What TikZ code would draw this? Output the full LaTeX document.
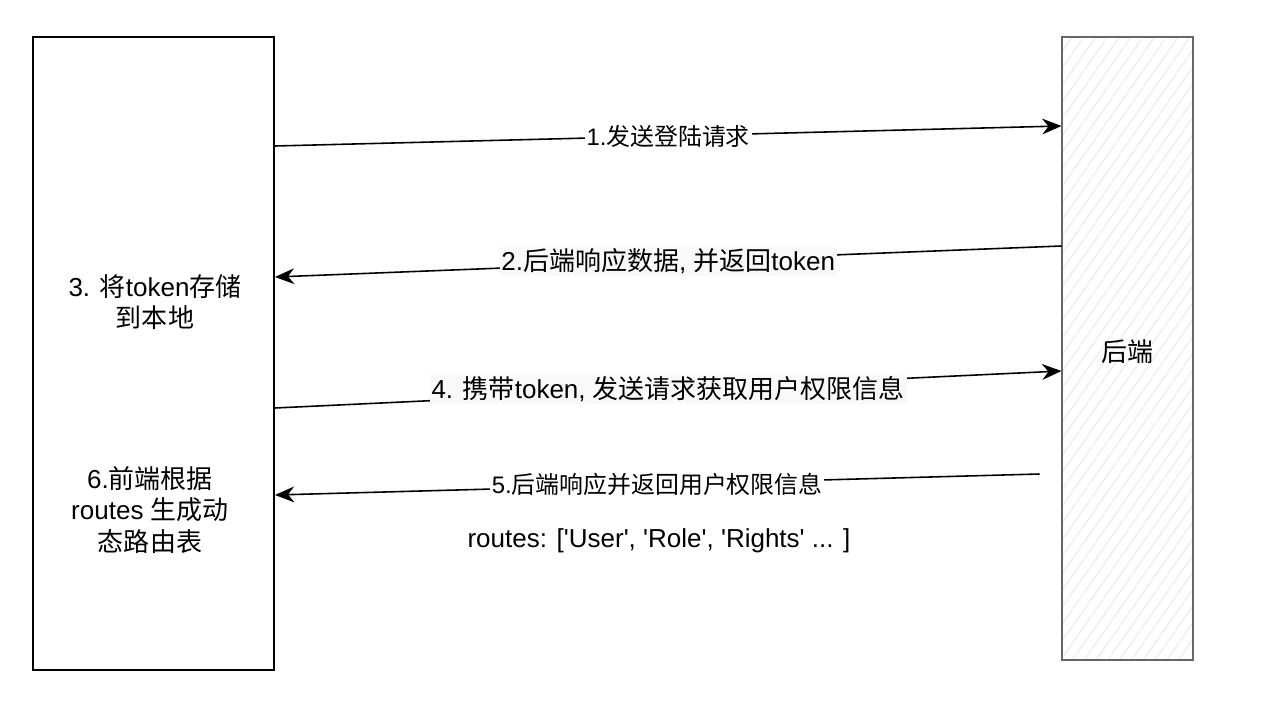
\documentclass[tikz,border=0pt]{standalone}
\usepackage{fontspec}
\setmainfont{Liberation Sans}
\newfontfamily\cjk{Noto Sans CJK SC}
\usepackage{tikz}
\usetikzlibrary{arrows.meta, calc, positioning, patterns.meta}

\begin{document}
\begin{tikzpicture}[x=0.02cm, y=-0.02cm,
        every node/.style={font=\fontsize{14.8}{18}\selectfont},
        flow/.style={line width=0.9pt, -{Stealth[length=11pt, width=9pt]}},
        msg/.style={fill=white, inner sep=1pt, font=\fontsize{13.6}{18}\selectfont},
        msggray/.style={fill=gray!5, inner sep=1pt}]

        \useasboundingbox (0,0) rectangle (1284,709);

        \node[draw, line width=1.1pt, minimum width=4.82cm, minimum height=12.66cm] (front) at (153.5,353.5){};
        \node[draw=black!60, line width=1.3pt, minimum width=2.62cm, minimum height=12.46cm,
              pattern={Lines[angle=55, distance=5.5pt, line width=0.6pt]}, pattern color=black!8] (back) at (1127.5,348.5){};
        \node (backlabel) at (1127,352) {\cjk 后端};

        \node[align=center] (store) at (155,302) {3. {\cjk 将}token{\cjk 存储}\\{\cjk 到本地}};
        \node[align=center] (build) at (150,510) {6.{\cjk 前端根据}\\routes {\cjk 生成动}\\{\cjk 态路由表}};

        \draw[flow] (front.east |- 0,146) -- node[msg]{1.{\cjk 发送登陆请求}} (back.west |- 0,126);
        \draw[flow] (back.west |- 0,246) -- node[msggray]{2.{\cjk 后端响应数据}, {\cjk 并返回}token} (front.east |- 0,277);
        \draw[flow] (front.east |- 0,408) -- node[msggray]{4. {\cjk 携带}token, {\cjk 发送请求获取用户权限信息}} (back.west |- 0,371);
        \draw[flow] ($(back.west |- 0,474)+(-22,0)$) -- node[msg]{5.{\cjk 后端响应并返回用户权限信息}} (front.east |- 0,495);

        \node (routes) at (659,541) {routes: [\textquotesingle User\textquotesingle, \textquotesingle Role\textquotesingle, \textquotesingle Rights\textquotesingle\ ... ]};

\end{tikzpicture}
\end{document}
